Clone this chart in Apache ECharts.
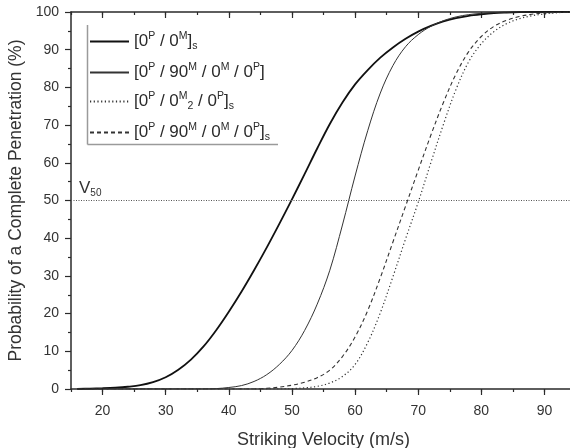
<!DOCTYPE html>
<html>
<head>
<meta charset="utf-8">
<script src="https://cdn.jsdelivr.net/npm/echarts@6/dist/echarts.min.js"></script>
<style>
  html, body { margin: 0; padding: 0; background: #fff; }
  #chart { width: 570px; height: 448px; }
</style>
</head>
<body>
<div id="chart"></div>
<script>
// Striking velocity (m/s), shared by all four curves
const velocity = [
  16, 18, 20, 22, 24, 26, 28, 30, 32, 34,
  36, 38, 40, 42, 44, 46, 48, 50, 52, 54,
  56, 58, 60, 62, 64, 66, 68, 70, 72, 74,
  76, 78, 80, 82, 84, 86, 88, 90, 92, 94
];

// Probability of complete penetration (%) for each lay-up
const probSym0P0M = [
  0.05, 0.1, 0.2, 0.35, 0.6, 1.0, 1.8, 3.1, 5.1, 7.8,
  11.3, 15.6, 20.5, 25.8, 31.5, 37.5, 43.8, 50.3, 57, 63.8,
  70.3, 76, 80.8, 84.6, 87.9, 90.6, 92.9, 94.8, 96.3, 97.5,
  98.4, 99.0, 99.4, 99.7, 99.85, 99.95, 100, 100, 100, 100
];
const prob0P90M0M0P = [
  0, 0, 0, 0, 0, 0, 0, 0, 0, 0,
  0, 0.1, 0.4, 0.9, 2.0, 3.8, 6.5, 10.2, 15.5, 22.5,
  31.5, 43.5, 56.5, 68.5, 78.5, 85.8, 90.8, 94, 96.2, 97.7,
  98.7, 99.3, 99.65, 99.85, 99.95, 100, 100, 100, 100, 100
];
const probSym0P0M20P = [
  0, 0, 0, 0, 0, 0, 0, 0, 0, 0,
  0, 0, 0, 0, 0, 0, 0, 0.1, 0.3, 0.7,
  1.6, 3.3, 6.5, 12.3, 20.2, 29.8, 39.8, 49.5, 60, 70.2,
  79.5, 86.8, 91.6, 94.8, 96.9, 98.2, 99, 99.5, 99.8, 100
];
const probSym0P90M0M0P = [
  0, 0, 0, 0, 0, 0, 0, 0, 0, 0,
  0, 0, 0, 0, 0, 0.2, 0.5, 1.0, 1.8, 3.0,
  5.0, 8.6, 13.8, 20.8, 29.5, 39, 48.5, 58, 67.3, 76,
  83.6, 89.5, 93.5, 96.2, 97.8, 98.8, 99.4, 99.75, 99.9, 100
];

// Legend labels (rich-text markup: {p|..} superscript, {b|..} subscript)
const seriesNames = [
  '[0{p|P} / 0{p|M}]{b|s}',
  '[0{p|P} / 90{p|M} / 0{p|M} / 0{p|P}]',
  '[0{p|P} / 0{p|M}{b|2} / 0{p|P}]{b|s}',
  '[0{p|P} / 90{p|M} / 0{p|M} / 0{p|P}]{b|s}'
];

// Velocity tick labels and the 50 % reference level
const xMajorTicks = [20, 30, 40, 50, 60, 70, 80, 90];
const v50 = 50;

const FONT = "'Liberation Sans', Arial, Helvetica, sans-serif";
const INK = '#2a2a2a';

const toPairs = (ys) => velocity.map((v, i) => [v, ys[i]]);

const richLegend = {
  p: { fontSize: 10.5, fontFamily: FONT, color: INK, padding: [0, 0, 10, 0] },
  b: { fontSize: 10.5, fontFamily: FONT, color: INK, padding: [10, 0, 0, 0] }
};

const baseX = {
  type: 'value', min: 15, max: 95, gridIndex: 0,
  splitLine: { show: false }
};

const chart = echarts.init(document.getElementById('chart'), null, { renderer: 'canvas' });

chart.setOption({
  animation: false,
  backgroundColor: '#ffffff',
  textStyle: { fontFamily: FONT },
  grid: {
    left: 71, top: 12, width: 505, height: 377,
    containLabel: false, outerBoundsMode: 'none'
  },
  legend: {
    orient: 'vertical',
    left: 84,
    top: 26,
    itemWidth: 39,
    itemHeight: 12,
    itemGap: 10,
    data: seriesNames,
    formatter: (n) => n,
    itemStyle: { opacity: 0 },
    textStyle: { fontSize: 17, color: INK, fontFamily: FONT, rich: richLegend }
  },
  xAxis: [
    Object.assign({}, baseX, {
      position: 'bottom',
      interval: 5,
      axisLine: { show: true, lineStyle: { color: INK, width: 1.5 } },
      axisTick: { show: true, inside: false, length: 3, lineStyle: { color: INK, width: 1.2 } },
      axisLabel: {
        customValues: xMajorTicks,
        margin: 15, fontSize: 14, color: '#333', fontFamily: FONT
      },
      name: 'Striking Velocity (m/s)',
      nameLocation: 'middle',
      nameGap: 42,
      nameTextStyle: { fontSize: 18, color: '#333', fontFamily: FONT }
    }),
    Object.assign({}, baseX, {
      position: 'bottom',
      axisLine: { show: false },
      axisTick: { show: true, inside: false, length: 6, customValues: xMajorTicks,
        lineStyle: { color: INK, width: 1.2 } },
      axisLabel: { show: false }
    }),
    Object.assign({}, baseX, {
      position: 'top',
      interval: 5,
      axisLine: { show: true, lineStyle: { color: INK, width: 1.5 } },
      axisTick: { show: true, inside: true, length: 3, lineStyle: { color: INK, width: 1.2 } },
      axisLabel: { show: false }
    }),
    Object.assign({}, baseX, {
      position: 'top',
      axisLine: { show: false },
      axisTick: { show: true, inside: true, length: 6, customValues: xMajorTicks,
        lineStyle: { color: INK, width: 1.2 } },
      axisLabel: { show: false }
    })
  ],
  yAxis: {
    type: 'value', min: 0, max: 100, interval: 10,
    axisLine: { show: true, lineStyle: { color: INK, width: 1.5 } },
    axisTick: { show: true, inside: false, length: 6, lineStyle: { color: INK, width: 1.2 } },
    minorTick: { show: true, splitNumber: 2, length: 3, lineStyle: { color: INK, width: 1.2 } },
    splitLine: { show: false },
    axisLabel: { margin: 12, fontSize: 14, color: '#333', fontFamily: FONT },
    name: 'Probability of a Complete Penetration (%)',
    nameLocation: 'middle',
    nameGap: 46,
    nameTextStyle: { fontSize: 17.5, color: '#333', fontFamily: FONT }
  },
  series: [
    {
      name: seriesNames[0], type: 'line', xAxisIndex: 0,
      data: toPairs(probSym0P0M),
      symbol: 'none', smooth: 0.35,
      lineStyle: { color: '#111', width: 1.8, type: 'solid' },
      itemStyle: { color: '#111' },
      markLine: {
        silent: true, symbol: 'none', animation: false,
        lineStyle: { color: '#555', width: 1, type: [1, 1.5] },
        label: {
          show: true, position: 'insideStartTop', distance: [8, 2],
          formatter: '{v|V}{s|50}',
          rich: {
            v: { fontSize: 17, color: '#333', fontFamily: FONT },
            s: { fontSize: 10, color: '#333', fontFamily: FONT, padding: [10, 0, 0, 0] }
          }
        },
        data: [{ yAxis: v50 }]
      }
    },
    {
      name: seriesNames[1], type: 'line', xAxisIndex: 0,
      data: toPairs(prob0P90M0M0P),
      symbol: 'none', smooth: 0.35,
      lineStyle: { color: '#333', width: 1, type: 'solid' },
      itemStyle: { color: '#333' }
    },
    {
      name: seriesNames[2], type: 'line', xAxisIndex: 0,
      data: toPairs(probSym0P0M20P),
      symbol: 'none', smooth: 0.35,
      lineStyle: { color: '#333', width: 1.2, type: [1.2, 2.5] },
      itemStyle: { color: '#333' }
    },
    {
      name: seriesNames[3], type: 'line', xAxisIndex: 0,
      data: toPairs(probSym0P90M0M0P),
      symbol: 'none', smooth: 0.35,
      lineStyle: { color: '#333', width: 1.1, type: [4, 3] },
      itemStyle: { color: '#333' }
    }
  ],
  graphic: [
    // open frame around the key: left and bottom edges
    { type: 'line', silent: true,
      shape: { x1: 87.5, y1: 25, x2: 87.5, y2: 144.5 },
      style: { stroke: '#9a9a9a', lineWidth: 1.5 } },
    { type: 'line', silent: true,
      shape: { x1: 87.5, y1: 144.5, x2: 278, y2: 144.5 },
      style: { stroke: '#9a9a9a', lineWidth: 1.5 } }
  ]
});
</script>
</body>
</html>
